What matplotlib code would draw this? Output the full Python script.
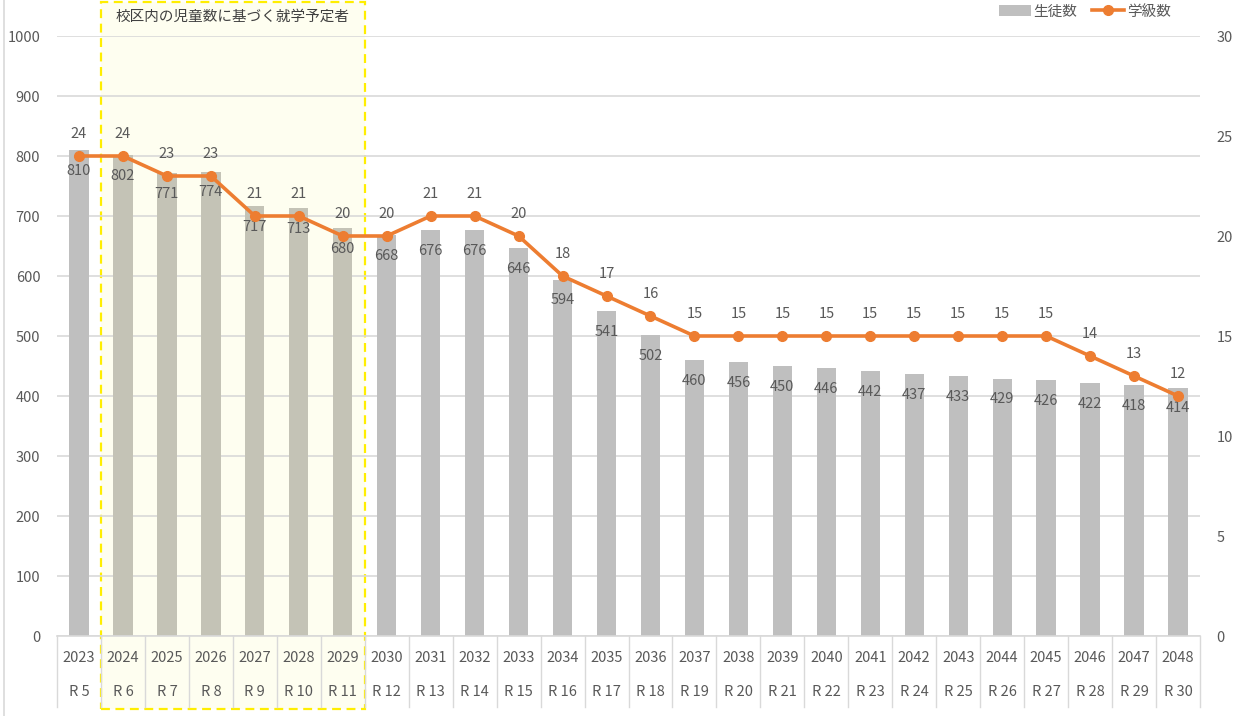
import matplotlib
matplotlib.use("Agg")
import matplotlib.pyplot as plt
import matplotlib.transforms as mtransforms
from matplotlib.lines import Line2D
from matplotlib.patches import Patch, Rectangle
import numpy as np

plt.rcParams["font.family"] = ["Noto Sans CJK JP", "DejaVu Sans"]

years = list(range(2023, 2049))
reiwa = [f"R {y - 2018}" for y in years]
students = [810, 802, 771, 774, 717, 713, 680, 668, 676, 676, 646, 594, 541, 502,
            460, 456, 450, 446, 442, 437, 433, 429, 426, 422, 418, 414]
classes = [24, 24, 23, 23, 21, 21, 20, 20, 21, 21, 20, 18, 17, 16,
           15, 15, 15, 15, 15, 15, 15, 15, 15, 14, 13, 12]
highlight_first, highlight_last = 1, 6  # 2024..2029
highlight_label = "校区内の児童数に基づく就学予定者"

text_color = "#595959"
grid_color = "#d9d9d9"
bar_color = "#bfbfbf"
bar_color_hl = "#c4c3b6"
line_color = "#ed7d31"

W, H = 1248, 716
fig = plt.figure(figsize=(W / 100, H / 100), dpi=100)
fig.patch.set_facecolor("white")
ax = fig.add_axes([57 / W, (H - 636) / H, (1200 - 57) / W, 600 / H])
ax2 = ax.twinx()

x = np.arange(len(years))
ax.set_xlim(-0.5, len(years) - 0.5)
ax.set_ylim(0, 1000)
ax2.set_ylim(0, 30)

# highlight band (behind bars)
band = Rectangle((highlight_first - 0.5, -73 / 600), highlight_last - highlight_first + 1,
                 (636 - 2) / 600 + 73 / 600,
                 transform=mtransforms.blended_transform_factory(ax.transData, ax.transAxes),
                 facecolor="#fefef0", edgecolor="#ffee00", linestyle=(0, (4, 2.5)),
                 linewidth=1.6, clip_on=False, zorder=0.2)
ax.add_patch(band)

ax.set_yticks(np.arange(0, 1001, 100))
ax.yaxis.grid(True, color=grid_color, linewidth=1.2, zorder=0.5)
ax.set_axisbelow(True)
ax2.set_yticks(np.arange(0, 31, 5))

colors = [bar_color_hl if highlight_first <= i <= highlight_last else bar_color for i in x]
ax.bar(x, students, width=0.44, color=colors, zorder=2)
for xi, v in zip(x, students):
    ax.annotate(str(v), (xi, v), xytext=(0, -15), textcoords="offset points",
                ha="center", va="center", fontsize=10.5, color=text_color, zorder=5)

ax2.plot(x, classes, color=line_color, linewidth=2.6, marker="o", markersize=7, zorder=4)
for xi, v in zip(x, classes):
    ax2.annotate(str(v), (xi, v), xytext=(0, 15.5), textcoords="offset points",
                 ha="center", va="center", fontsize=10.5, color=text_color)

for a in (ax, ax2):
    for s in a.spines.values():
        s.set_visible(False)
    a.tick_params(length=0, labelsize=10.5, labelcolor=text_color)
ax.spines["bottom"].set_visible(True)
ax.spines["bottom"].set_color(grid_color)
ax.spines["bottom"].set_linewidth(1.2)
ax.tick_params(axis="y", pad=12)
ax2.tick_params(axis="y", pad=12)
ax.set_xticks([])

# category table under the axis
trans = mtransforms.blended_transform_factory(ax.transData, ax.transAxes)
for b in np.arange(-0.5, len(years), 1.0):
    ax.plot([b, b], [0, -71 / 600], transform=trans, color=grid_color,
            linewidth=1.0, clip_on=False, zorder=1)
for xi, yr, r in zip(x, years, reiwa):
    ax.text(xi, -22 / 600, str(yr), transform=trans, ha="center", va="center",
            fontsize=10.5, color=text_color)
    ax.text(xi, -56 / 600, r, transform=trans, ha="center", va="center",
            fontsize=10.5, color=text_color)

ax.text((highlight_first + highlight_last) / 2, (636 - 17) / 600, highlight_label,
        transform=trans, ha="center", va="center", fontsize=10.5, color="#404040")

handles = [Patch(facecolor=bar_color, edgecolor="none"),
           Line2D([0], [0], color=line_color, linewidth=2.6, marker="o", markersize=7)]
fig.legend(handles, ["生徒数", "学級数"], loc="upper right", bbox_to_anchor=(1184 / W, 1.012),
           ncol=2, frameon=False, fontsize=10.5, labelcolor=text_color,
           handlelength=2.2, handletextpad=0.2, columnspacing=1.0)

fig.add_artist(Line2D([4 / W, 4 / W], [0, 1], color=grid_color, linewidth=1.2))

fig.savefig("out.png", dpi=100, facecolor=fig.get_facecolor())
